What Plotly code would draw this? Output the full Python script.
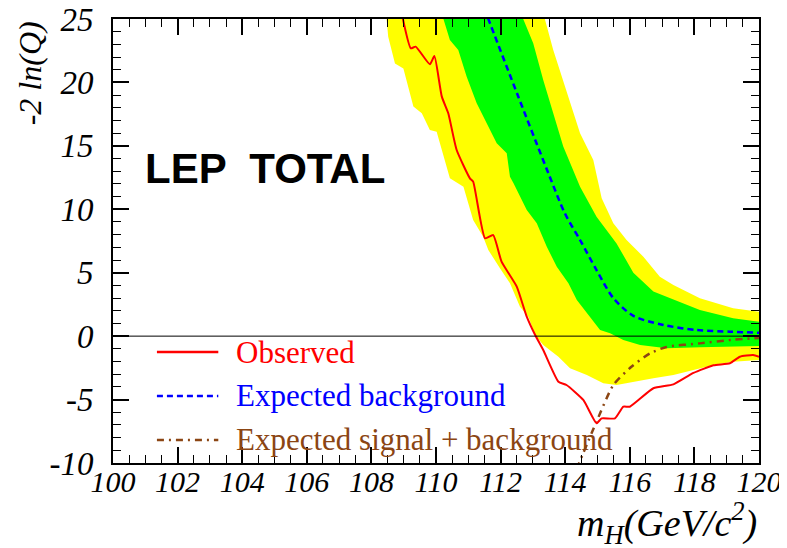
import plotly.graph_objects as go

# -2 ln(Q) vs Higgs mass
obs_m = [108.95, 109.22, 109.37, 109.81, 109.95, 110.18, 110.38, 110.64, 111.05, 111.15,
         111.52, 111.77, 112.03, 112.5, 112.8, 113.07, 113.32, 113.79, 114.04, 114.56,
         114.97, 115.13, 115.54, 115.8, 116.0, 116.73, 117.35, 117.97, 118.59, 119.1,
         119.41, 119.82, 120.0]
obs_v = [25.3, 22.69, 22.82, 21.43, 22.08, 18.88, 17.57, 14.67, 12.44, 12.18,
         7.71, 7.97, 5.87, 3.9, 1.6, 0.09, -1.09, -3.59, -3.85, -5.03,
         -6.87, -6.48, -6.48, -5.56, -5.56, -4.11, -3.8, -2.9, -2.3, -2.14,
         -1.62, -1.49, -1.62]

bkg_m = [111.5, 111.62, 112.54, 113.48, 113.99, 114.46, 114.97, 115.49,
         116.11, 117.04, 118.07, 119.1, 120.0]
bkg_v = [25.8, 25.0, 18.93, 12.84, 9.68, 7.58, 5.21, 3.0,
         1.6, 0.88, 0.48, 0.35, 0.27]

sb_m = [114.35, 114.97, 115.49, 116.05, 116.63, 117.14, 118.17, 119.2, 120.0]
sb_v = [-10.5, -6.74, -3.85, -2.41, -1.35, -0.85, -0.57, -0.28, -0.15]

# 2 sigma band (yellow): lower / upper edges
y2lo_m = [108.4, 108.47, 108.52, 108.73, 108.99, 109.30, 109.56, 109.81, 110.02, 110.28,
          110.43, 110.85, 111.15, 111.46, 111.62, 111.98, 112.29, 112.6, 112.86, 113.07,
          113.32, 113.79, 114.15, 114.67, 115.18, 115.59, 116.11, 116.73, 117.35, 117.97,
          118.59, 119.2, 120.0]
y2lo_v = [26.0, 25.0, 23.6, 21.5, 21.1, 18.1, 17.57, 16.25, 16.12, 13.89,
          12.44, 11.78, 9.16, 7.84, 6.79, 5.35, 4.17, 2.32, 1.53, 0.09,
          -0.70, -1.62, -2.53, -3.06, -3.72, -3.85, -3.59, -3.32, -3.06, -2.67,
          -2.27, -2.01, -1.88]
y2hi_m = [113.35, 113.37, 113.63, 114.04, 114.46, 114.87, 115.13, 115.49, 115.9, 116.42,
          116.93, 117.35, 118.17, 119.2, 120.0]
y2hi_v = [26.0, 25.0, 22.56, 19.4, 15.99, 13.89, 10.87, 8.89, 7.58, 6.26,
          4.69, 4.03, 2.98, 2.19, 1.93]

# 1 sigma band (green)
g1lo_m = [110.2, 110.23, 110.43, 110.69, 110.95, 111.26, 111.57, 111.88, 112.19, 112.29,
          112.4, 112.81, 113.12, 113.43, 113.74, 114.1, 114.36, 114.77, 115.08, 115.39,
          115.8, 116.32, 117.14, 118.17, 119.2, 120.0]
g1lo_v = [26.0, 25.0, 23.34, 22.56, 20.45, 18.35, 16.78, 15.2, 14.41, 12.57,
          12.05, 9.94, 8.89, 7.05, 5.47, 4.17, 2.85, 1.53, 0.48, 0.22,
          -0.30, -0.70, -0.96, -0.88, -0.83, -0.78]
g1hi_m = [112.65, 112.7, 113.01, 113.32, 113.63, 113.94, 114.46, 114.97, 115.59, 116.11,
          116.73, 117.35, 118.17, 119.2, 120.0]
g1hi_v = [26.0, 25.0, 23.08, 20.19, 17.57, 14.94, 11.78, 9.42, 7.31, 5.0,
          3.51, 2.85, 2.06, 1.41, 1.14]

x_ticks = list(range(100, 121, 2))
y_ticks = [-10, -5, 0, 5, 10, 15, 20, 25]
y_ticktext = ["-10", "-5", "0", "5", "10", "15", "20", "25"]

legend_names = ["Observed", "Expected background", "Expected signal + background"]
RED, BLUE, BROWN = "#ff0000", "#0000ff", "#8b4513"
SERIF = "Liberation Serif"

fig = go.Figure()

# bands as closed polygons: lower edge then upper edge reversed
fig.add_trace(go.Scatter(
    x=y2lo_m + y2hi_m[::-1], y=y2lo_v + y2hi_v[::-1],
    fill="toself", fillcolor="#ffff00", line=dict(width=0), mode="lines",
    hoverinfo="skip"))
fig.add_trace(go.Scatter(
    x=g1lo_m + g1hi_m[::-1], y=g1lo_v + g1hi_v[::-1],
    fill="toself", fillcolor="#00ff00", line=dict(width=0), mode="lines",
    hoverinfo="skip"))

fig.add_trace(go.Scatter(x=bkg_m, y=bkg_v, mode="lines",
                         line=dict(color=BLUE, width=2.5, dash="6px,4px",
                                   shape="spline", smoothing=0.8)))
fig.add_trace(go.Scatter(x=sb_m, y=sb_v, mode="lines",
                         line=dict(color=BROWN, width=2.5, dash="7px,5px,2px,5px",
                                   shape="spline", smoothing=0.6)))
fig.add_trace(go.Scatter(x=obs_m, y=obs_v, mode="lines",
                         line=dict(color=RED, width=2, shape="spline", smoothing=0.5)))

fig.add_hline(y=0, line_width=1, line_color="black")

# plot area in paper coords, legend drawn by hand
leg_rows = [0.25, 0.151, 0.052]
leg_dash = ["solid", "6px,4px", "7px,5px,2px,5px"]
leg_col = [RED, BLUE, BROWN]
for name, yy, dsh, col in zip(legend_names, leg_rows, leg_dash, leg_col):
    fig.add_shape(type="line", xref="paper", yref="paper",
                  x0=0.068, x1=0.163, y0=yy, y1=yy,
                  line=dict(color=col, width=2.5, dash=dsh))
    fig.add_annotation(text=name, xref="paper", yref="paper", x=0.187, y=yy,
                       xanchor="left", yanchor="middle", showarrow=False,
                       font=dict(family=SERIF, size=31, color=col))

fig.add_annotation(text="<b>LEP  TOTAL</b>", xref="paper", yref="paper",
                   x=0.047, y=0.664, xanchor="left", yanchor="middle", showarrow=False,
                   font=dict(family="Liberation Sans", size=42, color="black"))

fig.add_annotation(text="-2 ln(Q)", xref="paper", yref="paper", x=-0.128, y=1.0,
                   xanchor="center", yanchor="top", textangle=-90, showarrow=False,
                   font=dict(family=SERIF, size=32, color="black", style="italic"))
fig.add_annotation(text="m<sub>H</sub>(GeV/c<sup>2</sup>)", xref="paper", yref="paper",
                   x=1.0, y=-0.135, xanchor="right", yanchor="middle", showarrow=False,
                   font=dict(family=SERIF, size=38, color="black", style="italic"))

axis_common = dict(
    showline=True, linewidth=2, linecolor="black", mirror="allticks",
    ticks="inside", tickwidth=1.5, tickcolor="black", showgrid=False, zeroline=False,
    layer="above traces", automargin=False, ticklabeloverflow="allow",
)

fig.update_xaxes(range=[100, 120], tickvals=x_ticks, ticklen=16, ticklabelstandoff=-9,
                 tickfont=dict(family=SERIF, size=30, color="black", style="italic"),
                 minor=dict(dtick=0.5, ticks="inside", ticklen=8, tickwidth=1.2,
                            tickcolor="black", showgrid=False),
                 **axis_common)
fig.update_yaxes(range=[-10, 25], tickvals=y_ticks, ticktext=y_ticktext, ticklen=16,
                 ticklabelstandoff=11,
                 tickfont=dict(family=SERIF, size=33, color="black", style="italic"),
                 minor=dict(dtick=1, ticks="inside", ticklen=8, tickwidth=1.2,
                            tickcolor="black", showgrid=False),
                 **axis_common)

# page body adds an 8px offset, so the figure is 8px smaller than the window
fig.update_layout(
    width=779, height=540,
    margin=dict(l=105, r=28, t=11, b=85, autoexpand=False),
    paper_bgcolor="white", plot_bgcolor="white",
    showlegend=False,
)

fig.write_html("out.html")
